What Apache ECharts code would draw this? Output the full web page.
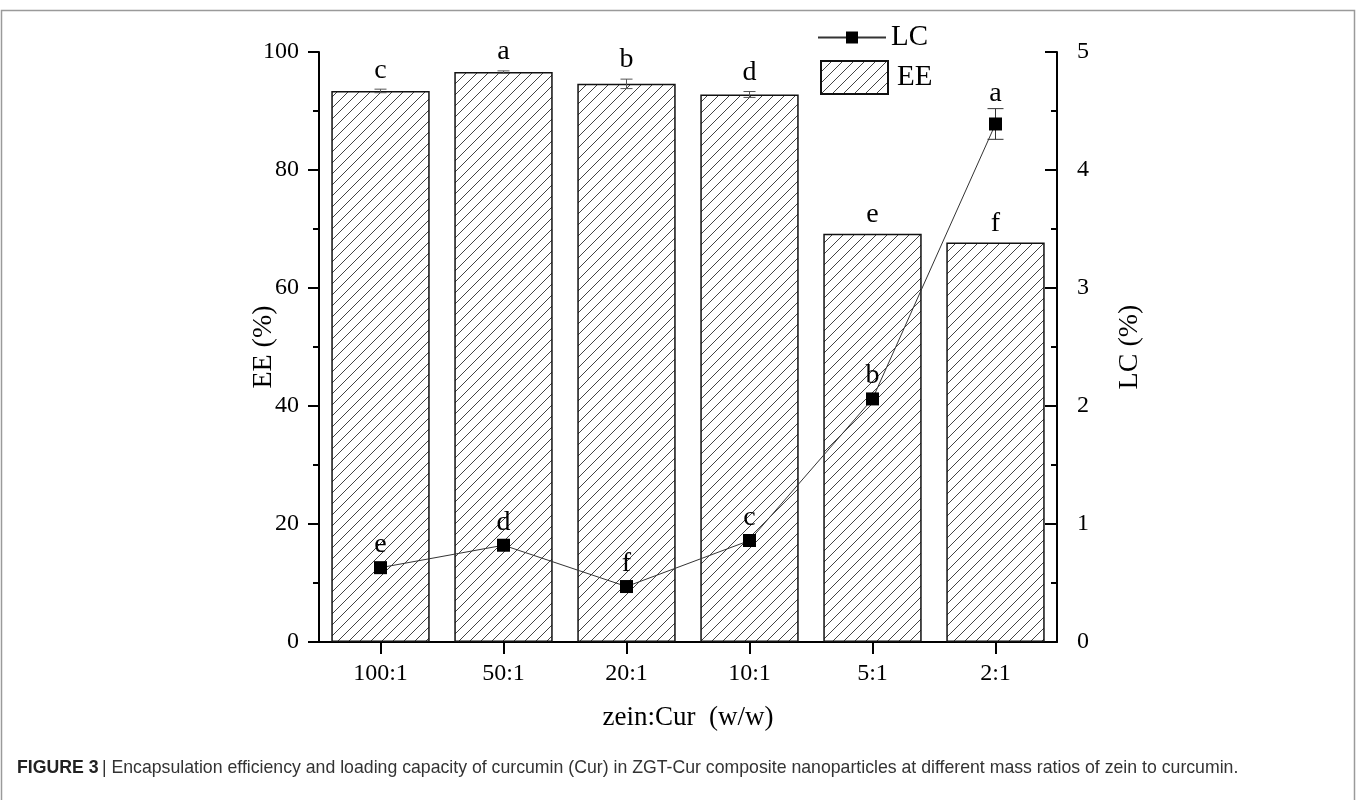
<!DOCTYPE html>
<html>
<head>
<meta charset="utf-8">
<script src="https://cdn.jsdelivr.net/npm/echarts@6/dist/echarts.min.js"></script>
<style>
  html, body { margin: 0; padding: 0; background: #fff; }
  #chart { width: 1357px; height: 800px; }
</style>
</head>
<body>
<div id="chart"></div>
<script>
// zein:Cur mass ratios
const categories = ['100:1', '50:1', '20:1', '10:1', '5:1', '2:1'];
// Encapsulation efficiency (%), its SD and significance letters
const eeValues = [93.4, 96.6, 94.6, 92.8, 69.2, 67.7];
const eeErrors = [0.3, 0.2, 0.8, 0.5, 0, 0];
const eeLetters = ['c', 'a', 'b', 'd', 'e', 'f'];
// Loading capacity (%), its SD and significance letters
const lcValues = [0.63, 0.82, 0.47, 0.86, 2.06, 4.39];
const lcErrors = [0, 0, 0, 0, 0, 0.13];
const lcLetters = ['e', 'd', 'f', 'c', 'b', 'a'];

const serif = 'Liberation Serif, Times New Roman, serif';

// diagonal hatch fill for the EE bars
function hatch() {
  const s = 11;
  const c = document.createElement('canvas');
  c.width = s; c.height = s;
  const g = c.getContext('2d');
  g.fillStyle = '#fff';
  g.fillRect(0, 0, s, s);
  g.strokeStyle = '#444';
  g.lineWidth = 1;
  g.beginPath();
  g.moveTo(-1, s + 1); g.lineTo(s + 1, -1);
  g.moveTo(-2, 2); g.lineTo(2, -2);
  g.moveTo(s - 2, s + 2); g.lineTo(s + 2, s - 2);
  g.stroke();
  return c;
}
const hatchFill = { image: hatch(), repeat: 'repeat' };

// error bar + letter drawn from the data through the axis scales
function errRender(opts) {
  return function (params, api) {
    const i = api.value(0), v = api.value(1), e = api.value(2);
    const letter = opts.letters[i];
    const center = api.coord([i, v]);
    const top = api.coord([i, v + e]);
    const bot = api.coord([i, v - e]);
    const children = [];
    if (e > 0) {
      const w = opts.cap;
      const st = { stroke: opts.color, lineWidth: 1 };
      children.push(
        { type: 'line', shape: { x1: top[0], y1: top[1], x2: bot[0], y2: bot[1] }, style: st },
        { type: 'line', shape: { x1: top[0] - w, y1: top[1], x2: top[0] + w, y2: top[1] }, style: st },
        { type: 'line', shape: { x1: bot[0] - w, y1: bot[1], x2: bot[0] + w, y2: bot[1] }, style: st }
      );
    }
    const yTop = Math.min(top[1], center[1] - opts.markHalf);
    children.push({
      type: 'text',
      style: {
        text: letter, x: center[0], y: yTop - opts.gap,
        align: 'center', verticalAlign: 'middle',
        font: '28px ' + serif, fill: '#000'
      }
    });
    return { type: 'group', children: children };
  };
}

const eeErrData = eeValues.map((v, i) => [i, v, eeErrors[i]]);
const lcErrData = lcValues.map((v, i) => [i, v, lcErrors[i]]);

const axisLine = { show: true, lineStyle: { color: '#000', width: 2 } };
const tickFont = { fontFamily: serif, fontSize: 24, color: '#000' };

const chart = echarts.init(document.getElementById('chart'), null, { renderer: 'canvas' });
chart.setOption({
  backgroundColor: '#fff',
  animation: false,
  grid: { left: 319, right: 300, top: 52, bottom: 158, containLabel: false },
  legend: [
    {
      data: ['LC'], left: 817, top: 23, padding: 0, orient: 'vertical',
      itemWidth: 68, itemHeight: 15, itemGap: 0,
      textStyle: { fontFamily: serif, fontSize: 29, color: '#000' }
    },
    {
      data: [{ name: 'EE', icon: 'rect' }], left: 820, top: 60, padding: 0,
      itemWidth: 67, itemHeight: 33,
      textStyle: { fontFamily: serif, fontSize: 29, color: '#000', padding: [0, 0, 0, 4] }
    }
  ],
  xAxis: {
    type: 'category', data: categories,
    axisLine: axisLine,
    axisTick: { show: true, alignWithLabel: true, length: 12, lineStyle: { color: '#000', width: 2 } },
    axisLabel: Object.assign({ margin: 20 }, tickFont),
    name: 'zein:Cur  (w/w)', nameLocation: 'middle', nameGap: 62, nameMoveOverlap: false,
    nameTextStyle: { fontFamily: serif, fontSize: 27, color: '#000' },
    splitLine: { show: false }
  },
  yAxis: [
    {
      type: 'value', min: 0, max: 100, interval: 20,
      axisLine: axisLine,
      axisTick: { show: true, length: 11, lineStyle: { color: '#000', width: 2 } },
      minorTick: { show: true, splitNumber: 2, length: 6, lineStyle: { color: '#000', width: 2 } },
      axisLabel: Object.assign({ margin: 20 }, tickFont),
      splitLine: { show: false },
      name: 'EE (%)', nameLocation: 'middle', nameGap: 41, nameRotate: 90, nameMoveOverlap: false,
      nameTextStyle: { fontFamily: serif, fontSize: 28, color: '#000' }
    },
    {
      type: 'value', min: 0, max: 5, interval: 1, position: 'right',
      axisLine: axisLine,
      axisTick: { show: true, inside: true, length: 12, lineStyle: { color: '#000', width: 2 } },
      minorTick: { show: true, splitNumber: 2, length: 6, lineStyle: { color: '#000', width: 2 } },
      axisLabel: Object.assign({ margin: 20 }, tickFont),
      splitLine: { show: false },
      name: 'LC (%)', nameLocation: 'middle', nameGap: 59, nameRotate: 90, nameMoveOverlap: false,
      nameTextStyle: { fontFamily: serif, fontSize: 28, color: '#000' }
    }
  ],
  series: [
    {
      name: 'EE', type: 'bar', yAxisIndex: 0, data: eeValues,
      barCategoryGap: '20%',
      itemStyle: { color: hatchFill, borderColor: '#111', borderWidth: 1.5 },
      emphasis: { disabled: true }, z: 2
    },
    {
      name: 'EEerr', type: 'custom', yAxisIndex: 0, data: eeErrData,
      renderItem: errRender({ letters: eeLetters, cap: 6, color: '#555', gap: 19, markHalf: 0 }),
      z: 3, silent: true
    },
    {
      name: 'LC', type: 'line', yAxisIndex: 1, data: lcValues,
      symbol: 'rect', symbolSize: 13,
      itemStyle: { color: '#000' },
      lineStyle: { color: '#333', width: 1 },
      emphasis: { disabled: true }, z: 5
    },
    {
      name: 'LCerr', type: 'custom', yAxisIndex: 1, data: lcErrData,
      renderItem: errRender({ letters: lcLetters, cap: 8, color: '#333', gap: 15, markHalf: 8 }),
      z: 4, silent: true
    }
  ],
  graphic: [
    {
      type: 'rect', silent: true, z: -1,
      shape: { x: 1.5, y: 10.5, width: 1353, height: 900 },
      style: { fill: null, stroke: '#9a9a9a', lineWidth: 1.5 }
    },
    {
      type: 'text', left: 17, top: 759,
      style: {
        text: '{b|FIGURE 3} {r|| Encapsulation efficiency and loading capacity of curcumin (Cur) in ZGT-Cur composite nanoparticles at different mass ratios of zein to curcumin.}',
        rich: {
          b: { fontFamily: 'Liberation Sans, Arial, sans-serif', fontWeight: 'bold', fontSize: 17.7, fill: '#222' },
          r: { fontFamily: 'Liberation Sans, Arial, sans-serif', fontSize: 17.7, fill: '#333' }
        }
      }
    }
  ]
});
</script>
</body>
</html>
